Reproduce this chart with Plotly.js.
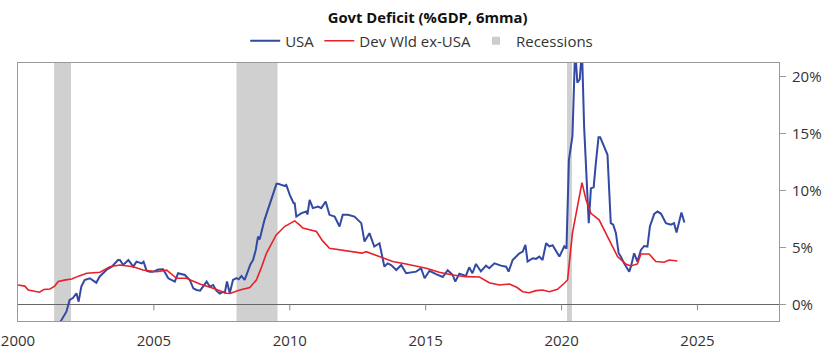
<!DOCTYPE html>
<html>
<head>
<meta charset="utf-8">
<script src="https://cdn.plot.ly/plotly-3.0.1.min.js"></script>
<style>html,body{margin:0;padding:0;background:#fff}#chart{width:840px;height:358px}</style>
</head>
<body>
<div id="chart"></div>
<script>
// USA govt deficit, % of GDP (6mma) — decimal years
var usaYears = [2001.35,2001.6,2001.78,2001.9,2002.02,2002.15,2002.23,2002.33,2002.45,2002.64,2002.88,2003.0,2003.25,2003.45,2003.68,2003.75,2003.87,2004.06,2004.24,2004.36,2004.55,2004.62,2004.73,2004.85,2004.98,2005.16,2005.34,2005.53,2005.77,2005.89,2006.14,2006.32,2006.45,2006.57,2006.7,2006.87,2006.94,2007.06,2007.18,2007.3,2007.42,2007.55,2007.61,2007.69,2007.79,2007.91,2008.04,2008.12,2008.22,2008.34,2008.46,2008.55,2008.65,2008.75,2008.83,2008.89,2009.07,2009.26,2009.41,2009.51,2009.57,2009.75,2009.81,2009.87,2010.0,2010.14,2010.18,2010.24,2010.43,2010.61,2010.65,2010.73,2010.85,2011.04,2011.16,2011.32,2011.46,2011.65,2011.83,2011.95,2012.14,2012.38,2012.63,2012.75,2012.93,2013.11,2013.3,2013.48,2013.6,2013.73,2013.92,2014.1,2014.28,2014.65,2014.83,2014.96,2015.14,2015.38,2015.63,2015.81,2015.99,2016.09,2016.24,2016.48,2016.6,2016.72,2016.85,2017.03,2017.22,2017.34,2017.53,2017.77,2017.96,2018.05,2018.2,2018.45,2018.57,2018.67,2018.75,2018.94,2019.06,2019.18,2019.3,2019.43,2019.55,2019.67,2019.8,2019.92,2020.1,2020.18,2020.27,2020.4,2020.5,2020.58,2020.67,2020.75,2020.83,2020.92,2021.0,2021.08,2021.18,2021.26,2021.36,2021.42,2021.57,2021.69,2021.81,2021.9,2022.0,2022.1,2022.18,2022.3,2022.49,2022.55,2022.67,2022.79,2022.92,2023.04,2023.16,2023.25,2023.41,2023.53,2023.66,2023.84,2024.02,2024.14,2024.23,2024.33,2024.41,2024.52];
var usaValues = [-2.2,-1.38,-0.65,0.38,0.55,0.97,0.23,1.55,2.14,2.29,1.9,2.43,3.02,3.31,3.9,3.9,3.46,3.9,3.31,3.75,3.6,3.75,2.96,2.87,2.87,3.06,3.08,2.29,2.0,2.73,2.58,2.14,1.41,1.26,1.2,1.85,2.0,1.55,1.7,1.2,0.95,1.1,1.02,2.0,0.97,2.14,2.3,2.2,2.49,2.14,3.02,3.5,3.9,4.8,5.96,5.7,7.43,8.75,9.78,10.6,10.6,10.42,10.42,10.5,9.63,8.9,8.9,7.72,8.02,8.16,7.9,9.19,8.46,8.6,8.46,9.04,7.87,7.72,6.84,7.87,7.87,7.72,7.14,5.52,6.26,5.08,5.37,3.31,3.6,3.46,3.02,3.46,2.73,2.87,3.17,2.29,2.95,2.65,2.4,3.0,2.6,2.0,2.7,2.5,3.25,2.73,3.55,2.9,3.4,3.17,3.6,3.4,3.31,2.87,3.9,4.49,4.64,5.22,3.76,4.05,4.0,4.2,3.9,5.37,5.1,5.2,4.7,4.2,5.1,4.9,12.7,14.8,22.5,19.5,19.8,22.5,15.6,11.0,7.14,10.2,10.3,12.4,14.7,14.7,13.9,13.15,7.14,7.0,6.26,4.49,4.2,3.6,2.87,3.31,4.49,3.76,4.78,5.13,5.08,6.84,7.96,8.16,7.96,7.14,7.0,7.14,6.31,7.43,8.07,7.2];

// Developed world ex-USA
var devYears = [2000.0,2000.25,2000.38,2000.6,2000.79,2000.95,2001.18,2001.35,2001.48,2001.75,2001.98,2002.25,2002.53,2003.02,2003.38,2003.75,2004.24,2004.6,2005.1,2005.47,2005.83,2006.2,2006.69,2007.18,2007.67,2007.8,2008.16,2008.53,2008.77,2008.95,2009.14,2009.5,2009.81,2010.0,2010.18,2010.36,2010.48,2010.98,2011.2,2011.46,2011.83,2012.32,2012.65,2012.81,2013.3,2013.79,2014.28,2015.02,2015.5,2015.99,2016.48,2016.98,2017.34,2017.71,2018.08,2018.35,2018.57,2018.81,2019.06,2019.3,2019.55,2019.85,2020.1,2020.22,2020.4,2020.53,2020.75,2020.9,2021.08,2021.38,2021.57,2021.87,2022.06,2022.36,2022.55,2022.79,2022.92,2023.22,2023.47,2023.77,2023.96,2024.26];
var devValues = [1.7,1.6,1.26,1.15,1.06,1.3,1.35,1.6,2.0,2.15,2.23,2.5,2.73,2.82,3.31,3.46,3.31,3.02,2.87,3.0,2.29,2.29,1.79,1.41,0.97,0.95,1.26,1.47,2.14,3.2,4.49,6.1,6.84,7.1,7.34,6.99,6.7,6.4,5.6,4.93,4.78,4.63,4.5,4.63,4.2,3.76,3.55,3.17,2.82,2.58,2.43,2.4,1.9,1.7,1.79,1.5,1.11,1.02,1.2,1.26,1.11,1.32,1.85,2.14,6.26,8.0,10.7,9.2,8.0,7.43,6.55,5.08,4.2,3.55,3.37,3.55,4.43,4.43,3.76,3.7,3.9,3.81];

// Recessions
var recStart = [2001.33, 2008.04, 2020.2];
var recEnd   = [2001.95, 2009.55, 2020.38];

var xTicks = [2000, 2005, 2010, 2015, 2020, 2025];
var yTicks = [0, 5, 10, 15, 20];
var yTickText = ['0%', '5%', '10%', '15%', '20%'];

var FONT = 'Open Sans, Lato, sans-serif';
var shapes = [];
for (var i = 0; i < recStart.length; i++) {
  shapes.push({type:'rect', xref:'x', yref:'paper', x0:recStart[i], x1:recEnd[i], y0:0, y1:1,
    fillcolor:'#d0d0d0', line:{width:0}, layer:'below'});
}
for (var j = 1; j < xTicks.length; j++) {
  shapes.push({type:'line', xref:'x', yref:'y', x0:xTicks[j], x1:xTicks[j],
    ysizemode:'pixel', yanchor:0, y0:0, y1:-6, line:{color:'#888', width:1}});
}

var traces = [
  {type:'scatter', mode:'lines', name:'USA', x:usaYears, y:usaValues,
   line:{color:'#3349a3', width:2}},
  {type:'scatter', mode:'lines', name:'Dev Wld ex-USA', x:devYears, y:devValues,
   line:{color:'#e8202a', width:1.6}},
  {type:'scatter', mode:'markers', name:'Recessions', x:[null], y:[null],
   marker:{symbol:'square', size:8, color:'#cccccc'}}
];

var layout = {
  width:840, height:358,
  margin:{l:18, r:61, t:63, b:37},
  paper_bgcolor:'#fff', plot_bgcolor:'#fff',
  font:{family:FONT, size:15, color:'#333'},
  title:{text:'<b>Govt Deficit (%GDP, 6mma)</b>', font:{family:FONT, size:14.8, color:'#111'},
    xref:'container', x:0.509, xanchor:'center', yref:'container', y:1-18/358, yanchor:'middle'},
  showlegend:true,
  legend:{orientation:'h', xref:'container', x:0.502, xanchor:'center', yref:'container', y:1-41/358, yanchor:'middle',
    font:{family:FONT, size:15, color:'#333'}, itemwidth:30, tracegroupgap:0, bgcolor:'rgba(0,0,0,0)'},
  xaxis:{range:[2000, 2028], type:'linear', tickvals:xTicks, ticktext:xTicks.map(String),
    ticks:'', ticklabelstandoff:6, showgrid:false, zeroline:false, showline:true, mirror:true, linecolor:'#999', linewidth:1,
    tickfont:{family:FONT, size:15, color:'#333'}, fixedrange:true},
  yaxis:{range:[-1.47, 21.23], side:'right', tickvals:yTicks, ticktext:yTickText,
    ticks:'outside', ticklen:6, tickcolor:'#999', ticklabelstandoff:3, showgrid:false,
    zeroline:true, zerolinecolor:'#666', zerolinewidth:1.5,
    showline:true, mirror:true, linecolor:'#999', linewidth:1,
    tickfont:{family:FONT, size:15, color:'#333'}, fixedrange:true},
  shapes:shapes
};

Plotly.newPlot('chart', traces, layout, {displayModeBar:false, staticPlot:true});
</script>
</body>
</html>
